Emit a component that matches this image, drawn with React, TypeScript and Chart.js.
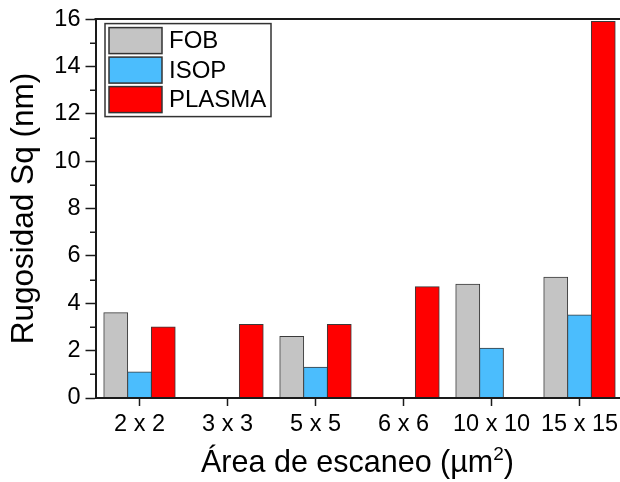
import React, { useEffect, useRef } from 'react';
import { Chart, registerables } from 'chart.js';

Chart.register(...registerables);

const categories = ['2 x 2', '3 x 3', '5 x 5', '6 x 6', '10 x 10', '15 x 15'];
const fobValues = [3.6, null, 2.6, null, 4.8, 5.1];
const isopValues = [1.1, null, 1.3, null, 2.1, 3.5];
const plasmaValues = [3.0, 3.1, 3.1, 4.7, null, 15.9];
const seriesLabels = ['FOB', 'ISOP', 'PLASMA'];
const seriesColors = ['#c4c4c4', '#4bbdfd', '#ff0000'];
const minorTickValues = [1, 3, 5, 7, 9, 11, 13, 15];
const yTitle = 'Rugosidad Sq (nm)';
const xTitleMain = 'Área de escaneo (µm';
const xTitleSup = '2';
const xTitleEnd = ')';

const FONT = "'Liberation Sans', Arial, Helvetica, sans-serif";
const INK = '#1a1a1a';

const decorPlugin = {
  id: 'decor',
  afterDraw(chart: any) {
    const ctx = chart.ctx;
    const { left, top, right } = chart.chartArea;
    const yScale = chart.scales.y;
    ctx.save();
    // top frame line
    ctx.strokeStyle = INK;
    ctx.lineWidth = 2;
    ctx.beginPath();
    ctx.moveTo(left - 1, top);
    ctx.lineTo(chart.width, top);
    ctx.stroke();
    // minor ticks on y axis
    ctx.lineWidth = 1.5;
    minorTickValues.forEach((v) => {
      const y = Math.round(yScale.getPixelForValue(v)) + 0.25;
      ctx.beginPath();
      ctx.moveTo(left - 5.5, y);
      ctx.lineTo(left, y);
      ctx.stroke();
    });
    // legend box
    const bx = left + 9.5;
    const by = top + 4.5;
    const bw = 166;
    const bh = 93;
    ctx.lineWidth = 1.5;
    ctx.strokeStyle = '#333';
    ctx.strokeRect(bx, by, bw, bh);
    ctx.font = `24px ${FONT}`;
    ctx.textBaseline = 'middle';
    ctx.textAlign = 'left';
    chart.data.datasets.forEach((ds: any, i: number) => {
      const sy = by + 4 + i * 29.5;
      ctx.fillStyle = ds.backgroundColor;
      ctx.fillRect(bx + 4, sy, 53, 26);
      ctx.strokeStyle = '#333';
      ctx.lineWidth = 1.5;
      ctx.strokeRect(bx + 4, sy, 53, 26);
      ctx.fillStyle = '#000';
      ctx.fillText(ds.label, bx + 64, sy + 14);
    });
    // x axis title with a real superscript
    const mainFont = `30.5px ${FONT}`;
    const supFont = `19px ${FONT}`;
    ctx.font = mainFont;
    const w1 = ctx.measureText(xTitleMain).width;
    const w3 = ctx.measureText(xTitleEnd).width;
    ctx.font = supFont;
    const w2 = ctx.measureText(xTitleSup).width;
    const total = w1 + w2 + w3;
    const cx = (left + right) / 2 - 2;
    let x = cx - total / 2;
    const baseY = 472;
    ctx.fillStyle = '#000';
    ctx.textBaseline = 'alphabetic';
    ctx.textAlign = 'left';
    ctx.font = mainFont;
    ctx.fillText(xTitleMain, x, baseY);
    x += w1;
    ctx.font = supFont;
    ctx.fillText(xTitleSup, x, baseY - 12);
    x += w2;
    ctx.font = mainFont;
    ctx.fillText(xTitleEnd, x, baseY);
    ctx.restore();
  },
};

export default function App() {
  const canvasRef = useRef<HTMLCanvasElement | null>(null);

  useEffect(() => {
    document.body.style.margin = '0';
    document.body.style.overflow = 'hidden';
    const canvas = canvasRef.current;
    if (!canvas) return;
    const values = [fobValues, isopValues, plasmaValues];
    const chart = new Chart(canvas, {
      type: 'bar',
      data: {
        labels: categories,
        datasets: seriesLabels.map((label, i) => ({
          label,
          data: values[i],
          backgroundColor: seriesColors[i],
          borderColor: '#3a3a3a',
          borderWidth: 1,
          inflateAmount: 0.5,
          categoryPercentage: 0.81,
          barPercentage: 1,
        })),
      },
      options: {
        responsive: false,
        animation: false,
        devicePixelRatio: 1,
        layout: { padding: { top: 18, right: 4.5, left: 0, bottom: 0 } },
        plugins: {
          legend: { display: false },
          tooltip: { enabled: false },
        },
        scales: {
          x: {
            type: 'category',
            offset: true,
            grid: {
              offset: false,
              drawOnChartArea: false,
              drawTicks: true,
              tickLength: 8,
              tickWidth: 1.5,
              tickColor: INK,
            },
            border: { display: true, color: INK, width: 2, z: 1 },
            ticks: {
              color: '#000',
              padding: 4.5,
              maxRotation: 0,
              autoSkip: false,
              font: { family: FONT, size: 23.5 },
            },
            title: { display: false },
            afterFit: (s: any) => {
              s.height = 84;
            },
          },
          y: {
            type: 'linear',
            min: 0,
            max: 16,
            grid: {
              drawOnChartArea: false,
              drawTicks: true,
              tickLength: 10,
              tickWidth: 1.5,
              tickColor: INK,
            },
            border: { display: true, color: INK, width: 2, z: 1 },
            ticks: {
              stepSize: 2,
              color: '#000',
              padding: 5,
              font: { family: FONT, size: 23.5 },
            },
            title: {
              display: true,
              text: yTitle,
              color: '#000',
              font: { family: FONT, size: 31.5 },
              padding: { top: 5, bottom: 0 },
            },
            afterFit: (s: any) => {
              s.width = 95.5;
            },
          },
        },
      },
      plugins: [decorPlugin],
    });
    return () => chart.destroy();
  }, []);

  return (
    <div style={{ width: 620, height: 482, overflow: 'hidden', position: 'relative', background: '#fff' }}>
      <canvas ref={canvasRef} width={628} height={482} style={{ display: 'block' }} />
    </div>
  );
}
